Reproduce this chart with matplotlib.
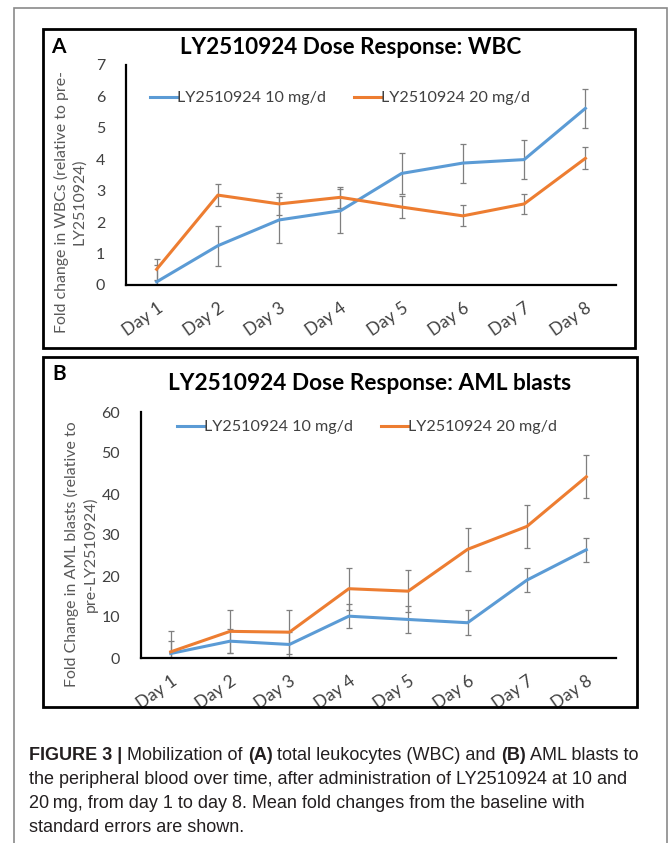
import matplotlib
matplotlib.use("Agg")

import matplotlib.pyplot as plt
from matplotlib.patches import Rectangle
import numpy as np

# ------------------------------------------------------------
# data
# ------------------------------------------------------------
days = ["Day 1", "Day 2", "Day 3", "Day 4", "Day 5", "Day 6", "Day 7", "Day 8"]
series_names = ["LY2510924 10 mg/d", "LY2510924 20 mg/d"]

wbc_10 = [0.1, 1.25, 2.07, 2.36, 3.55, 3.88, 3.99, 5.62]
wbc_10_err = [0.55, 0.63, 0.72, 0.70, 0.64, 0.62, 0.63, 0.63]
wbc_20 = [0.5, 2.86, 2.58, 2.79, 2.48, 2.2, 2.58, 4.03]
wbc_20_err = [0.33, 0.34, 0.35, 0.33, 0.34, 0.33, 0.33, 0.35]

aml_10 = [1.1, 4.1, 3.3, 10.2, 9.4, 8.6, 19.0, 26.4]
aml_10_err = [3.0, 2.9, 3.0, 3.0, 3.2, 3.1, 3.0, 2.9]
aml_20 = [1.5, 6.5, 6.3, 16.9, 16.3, 26.5, 32.1, 44.2]
aml_20_err = [5.2, 5.2, 5.3, 5.1, 5.1, 5.2, 5.3, 5.2]

W, H = 669, 843
BLUE = "#5B9BD5"
ORANGE = "#ED7D31"
ERR = "#7F7F7F"
TXT = "#404040"
FONT = ["Lato", "DejaVu Sans"]

plt.rcParams["font.family"] = FONT

fig = plt.figure(figsize=(W / 100, H / 100), dpi=100)


def fx(px):
    return px / W


def fy(py):
    return 1 - py / H


def box(x0, y0, x1, y1, lw, color):
    fig.patches.append(Rectangle((fx(x0), fy(y1)), fx(x1) - fx(x0), fy(y0) - fy(y1),
                                 transform=fig.transFigure, fill=False,
                                 lw=lw, edgecolor=color, zorder=0))


def panel(rect, ylim, yticks, s10, e10, s20, e20, legend_xy):
    l, t, r, b = rect
    ax = fig.add_axes([fx(l), fy(b), fx(r) - fx(l), fy(t) - fy(b)])
    x = np.arange(len(days))
    for vals, errs, color, name in [(s10, e10, BLUE, series_names[0]),
                                    (s20, e20, ORANGE, series_names[1])]:
        ax.errorbar(x, vals, yerr=errs, fmt="none", ecolor=ERR, elinewidth=0.9,
                    capsize=2.5, capthick=0.9, zorder=2)
        ax.plot(x, vals, color=color, lw=2.2, label=name, zorder=3,
                solid_joinstyle="round")
    ax.set_xlim(-0.5, len(days) - 0.5)
    ax.set_ylim(*ylim)
    ax.set_yticks(yticks)
    ax.set_xticks(x)
    ax.set_xticklabels(days, rotation=35, ha="right", rotation_mode="anchor",
                       fontsize=12.5, color=TXT)
    ax.tick_params(axis="both", length=0)
    ax.tick_params(axis="y", pad=15, labelsize=11.5, labelcolor=TXT)
    ax.tick_params(axis="x", pad=11)
    for s in ["top", "right"]:
        ax.spines[s].set_visible(False)
    for s in ["left", "bottom"]:
        ax.spines[s].set_linewidth(1.6)
        ax.spines[s].set_color("black")
    ax.patch.set_alpha(0)
    ax.legend(loc="center", bbox_to_anchor=(fx(legend_xy[0]), fy(legend_xy[1])),
              bbox_transform=fig.transFigure, ncol=2, frameon=False,
              handlelength=1.7, handletextpad=0.0, columnspacing=1.7,
              fontsize=11.6, labelcolor=TXT)
    return ax


# outer frame and panel frames
box(14, 8, 667, 900, 1.2, "#8A8A8A")
box(43, 29, 635, 348, 2.0, "black")
box(43, 357, 637, 707, 2.0, "black")

# ------------------------------------------------------------
# panel A
# ------------------------------------------------------------
panel((126, 65, 616, 285), (0, 7), range(0, 8), wbc_10, wbc_10_err,
      wbc_20, wbc_20_err, (340, 98))
fig.text(fx(51), fy(47), "A", fontsize=15, fontweight="bold", ha="left", va="center")
fig.text(fx(351), fy(47), "LY2510924 Dose Response: WBC", fontsize=16.2,
         fontweight="bold", ha="center", va="center", color="black")
fig.text(fx(70), fy(202), "Fold change in WBCs (relative to pre-\nLY2510924)",
         rotation=90, ha="center", va="center", multialignment="center",
         fontsize=11.4, color="#595959", linespacing=1.2)

# ------------------------------------------------------------
# panel B
# ------------------------------------------------------------
panel((141, 412, 616, 658), (0, 60), range(0, 61, 10), aml_10, aml_10_err,
      aml_20, aml_20_err, (367, 427))
fig.text(fx(52), fy(374), "B", fontsize=15, fontweight="bold", ha="left", va="center")
fig.text(fx(370), fy(383), "LY2510924 Dose Response: AML blasts", fontsize=16.3,
         fontweight="bold", ha="center", va="center", color="black")
fig.text(fx(81), fy(554), "Fold Change in AML blasts (relative to\npre-LY2510924)",
         rotation=90, ha="center", va="center", multialignment="center",
         fontsize=11.4, color="#595959", linespacing=1.3)

# ------------------------------------------------------------
# caption, with bold runs
# ------------------------------------------------------------
cap_font = ["Liberation Sans", "DejaVu Sans"]
caption = [
    [("FIGURE 3 | ", True), ("Mobilization of ", False), ("(A)", True),
     (" total leukocytes (WBC) and ", False), ("(B)", True), (" AML blasts to", False)],
    [("the peripheral blood over time, after administration of LY2510924 at 10 and", False)],
    [("20\u2009mg, from day 1 to day 8. Mean fold changes from the baseline with", False)],
    [("standard errors are shown.", False)],
]
renderer = fig.canvas.get_renderer()
for i, runs in enumerate(caption):
    x = fx(29)
    y = fy(755 + i * 24)
    for txt, bold in runs:
        t = fig.text(x, y, txt, fontsize=13, family=cap_font,
                     fontweight="bold" if bold else "normal",
                     color="#231F20", ha="left", va="center")
        bb = t.get_window_extent(renderer=renderer)
        x += bb.width / fig.bbox.width

fig.savefig("out.png", dpi=100)
